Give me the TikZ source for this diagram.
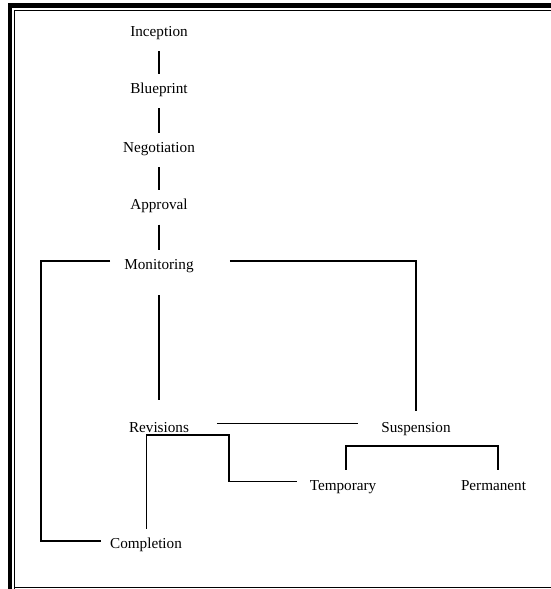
\documentclass[tikz,border=0pt]{standalone}
\usepackage{fontspec}
\setmainfont{Liberation Serif}
\begin{document}
\begin{tikzpicture}[x=1pt,y=-1pt,
  lbl/.style={inner sep=0pt, text height=10pt, text depth=3pt, anchor=base, font=\fontsize{15.2}{18}\selectfont},
  conn/.style={line width=1.05pt, black},
  vlink/.style={conn, shorten <=12pt, shorten >=9pt}]
\useasboundingbox (0,0) rectangle (551,589);
% frame
\fill[black] (7.5,2.5) rectangle (551,8);
\fill[black] (7.5,2.5) rectangle (12,589);
\draw[line width=1pt] (14.5,589) -- (14.5,10.5) -- (551,10.5);
\draw[line width=1pt] (14.5,587.7) -- (551,587.7);
% nodes
\node[lbl] (inc) at (159,36) {Inception};
\node[lbl] (blu) at (159,93) {Blueprint};
\node[lbl] (neg) at (159,152) {Negotiation};
\node[lbl] (app) at (159,209.5) {Approval};
\node[lbl] (mon) at (159,269) {Monitoring};
\node[lbl] (rev) at (159,432) {Revisions};
\node[lbl] (sus) at (416,432) {Suspension};
\node[lbl] (tem) at (343,490) {Temporary};
\node[lbl] (per) at (493.5,490) {Permanent};
\node[lbl] (com) at (146,548) {Completion};
\coordinate (cl) at (41,541);
\coordinate (rb) at (229,435);
\coordinate (bk) at (0,446);
% connectors
\draw[vlink] (inc.south) -- (blu.north);
\draw[vlink] (blu.south) -- (neg.north);
\draw[vlink] (neg.south) -- (app.north);
\draw[vlink] (app.south) -- (mon.north);
\draw[conn, shorten <=23pt, shorten >=22pt] (mon.south) -- (rev.north);
\draw[conn] ([shift={(-14pt,4.5pt)}]mon.west) -| (cl) -- ([shift={(-9pt,3.5pt)}]com.west);
\draw[conn] ([shift={(36pt,4.5pt)}]mon.east) -| ([yshift=11pt]sus.north);
\draw[conn] ([shift={(27.7pt,5pt)}]rev.east) -- ([shift={(-23pt,5pt)}]sus.west);
\draw[conn] ([shift={(0.7pt,9pt)}]com.north) |- (rb) |- ([shift={(-13pt,4.8pt)}]tem.west);
\draw[conn] ([shift={(3pt,10pt)}]tem.north) -- ([xshift=3pt]tem.north |- bk) -| ([shift={(4.5pt,10pt)}]per.north);
\end{tikzpicture}
\end{document}
